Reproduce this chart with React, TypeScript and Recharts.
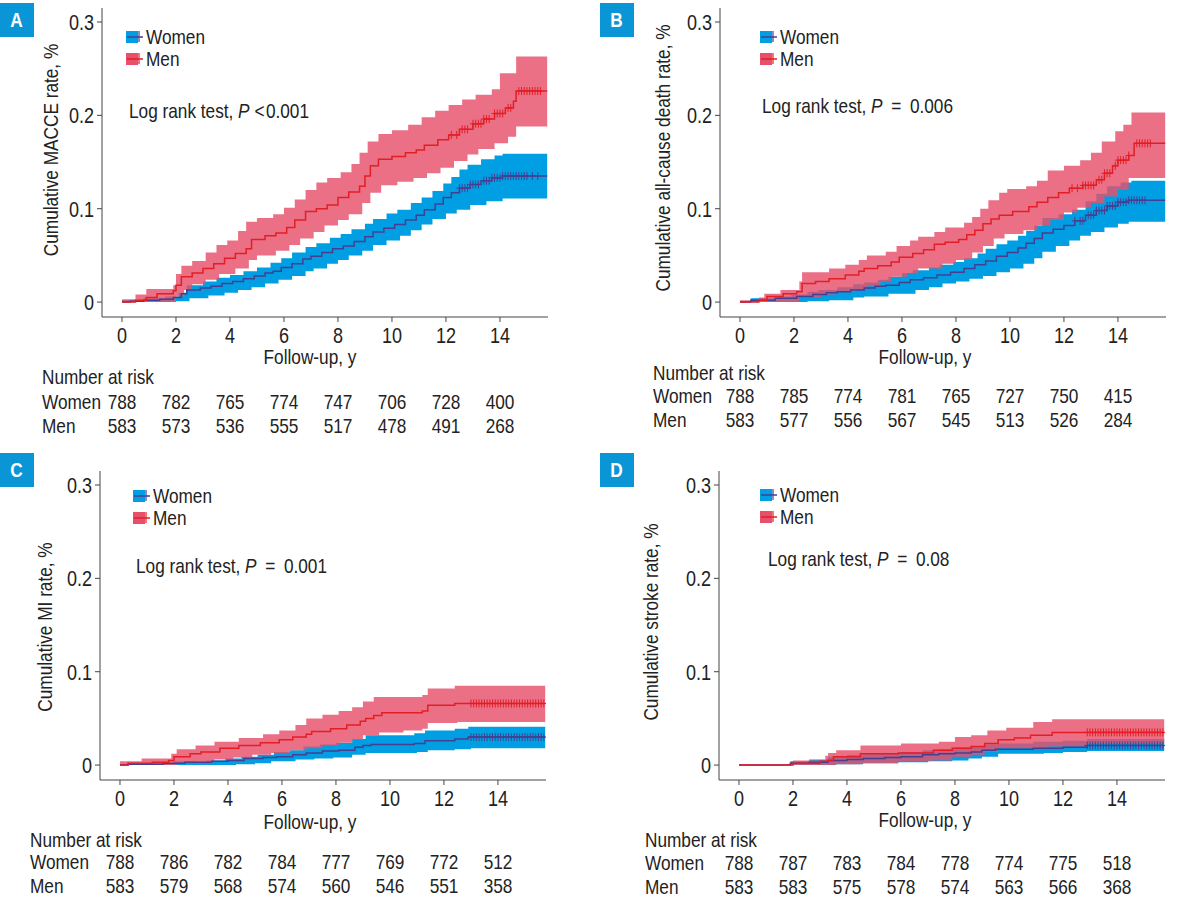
import React from "react";
import { Area, ComposedChart, Line, Scatter, XAxis, YAxis } from "recharts";

type Pt = [number, number];

// Arial-metric face squeezed horizontally to get a condensed look
const FONT = "'Liberation Sans', Arial, sans-serif";
const SQUEEZE = 0.82;
const BLUE_BAND = "#009fe3";
const RED_BAND = "#e6506b";
const BLUE_LINE = "#463f91";
const RED_LINE = "#e31e24";
const AXIS = "#444";
const TEXT = "#222";

const xTicks = [0, 2, 4, 6, 8, 10, 12, 14];
const yTicks = [0, 0.1, 0.2, 0.3];
const followEnd = 15.75;

// ---- A: MACCE ----
const maceWomen: Pt[] = [[0,0],[0.3,0.001],[0.8,0.002],[1.4,0.003],[1.9,0.005],[2.2,0.009],[2.4,0.013],[2.9,0.015],[3.3,0.017],[3.7,0.02],[4.1,0.022],[4.5,0.025],[4.9,0.028],[5.3,0.031],[5.6,0.033],[5.9,0.037],[6.3,0.041],[6.7,0.046],[7.0,0.049],[7.4,0.053],[7.8,0.057],[8.2,0.06],[8.6,0.065],[9.0,0.07],[9.3,0.075],[9.7,0.079],[10.1,0.083],[10.5,0.088],[10.9,0.093],[11.2,0.099],[11.6,0.105],[11.9,0.112],[12.2,0.117],[12.5,0.122],[12.9,0.126],[13.3,0.13],[13.7,0.133],[14.1,0.135]];
const maceWomenLo: Pt[] = [[0,0],[2.0,0.001],[2.5,0.004],[3.2,0.007],[3.8,0.01],[4.3,0.013],[4.8,0.016],[5.3,0.02],[5.8,0.024],[6.3,0.028],[6.8,0.033],[7.1,0.036],[7.6,0.041],[8.0,0.045],[8.4,0.05],[8.9,0.055],[9.3,0.061],[9.8,0.066],[10.3,0.071],[10.7,0.077],[11.1,0.083],[11.5,0.089],[12.0,0.095],[12.4,0.099],[12.9,0.104],[13.5,0.108],[14.1,0.111]];
const maceWomenHi: Pt[] = [[0,0.002],[0.8,0.004],[1.6,0.006],[2.1,0.01],[2.4,0.018],[3.0,0.022],[3.5,0.026],[4.0,0.029],[4.5,0.033],[5.0,0.037],[5.5,0.042],[5.9,0.047],[6.3,0.053],[6.8,0.059],[7.2,0.063],[7.7,0.069],[8.1,0.073],[8.5,0.078],[9.0,0.084],[9.3,0.089],[9.8,0.095],[10.2,0.099],[10.7,0.106],[11.1,0.112],[11.5,0.119],[11.9,0.127],[12.2,0.134],[12.5,0.142],[12.8,0.147],[13.3,0.153],[13.8,0.157],[14.1,0.159]];
const maceMen: Pt[] = [[0,0],[0.5,0.002],[0.9,0.005],[1.3,0.009],[1.9,0.012],[2.0,0.018],[2.2,0.027],[2.6,0.031],[3.0,0.036],[3.4,0.041],[3.8,0.047],[4.2,0.052],[4.6,0.057],[4.8,0.067],[5.3,0.071],[5.7,0.074],[6.1,0.08],[6.4,0.088],[6.8,0.097],[7.2,0.1],[7.6,0.104],[8.0,0.112],[8.4,0.118],[8.8,0.124],[9.0,0.135],[9.2,0.146],[9.5,0.153],[10.0,0.156],[10.5,0.16],[10.9,0.163],[11.2,0.168],[11.7,0.174],[12.1,0.179],[12.5,0.185],[13.0,0.191],[13.4,0.196],[13.8,0.202],[14.2,0.208],[14.5,0.215],[14.6,0.226]];
const maceMenLo: Pt[] = [[0,0],[2.0,0.006],[2.3,0.013],[2.6,0.019],[3.1,0.024],[3.6,0.03],[4.2,0.036],[4.7,0.045],[5.0,0.05],[5.7,0.055],[6.2,0.061],[6.6,0.068],[7.1,0.075],[7.5,0.082],[8.0,0.088],[8.4,0.094],[8.9,0.106],[9.2,0.117],[9.6,0.125],[10.2,0.129],[10.8,0.133],[11.3,0.138],[11.8,0.144],[12.3,0.151],[12.8,0.158],[13.2,0.164],[13.8,0.17],[14.3,0.177],[14.6,0.188]];
const maceMenHi: Pt[] = [[0,0.003],[0.5,0.008],[0.9,0.014],[1.9,0.018],[2.0,0.03],[2.2,0.039],[2.6,0.044],[3.1,0.053],[3.5,0.061],[3.9,0.066],[4.3,0.076],[4.6,0.086],[5.0,0.09],[5.6,0.094],[6.0,0.101],[6.4,0.11],[6.8,0.12],[7.2,0.128],[7.6,0.133],[8.1,0.139],[8.5,0.148],[8.8,0.16],[9.1,0.172],[9.5,0.18],[10.0,0.184],[10.6,0.19],[11.1,0.198],[11.6,0.205],[12.1,0.211],[12.6,0.217],[13.1,0.222],[13.7,0.228],[14.0,0.245],[14.6,0.263]];
const maceWomenCensor = [12.5,12.6,12.7,12.8,12.9,13.0,13.1,13.2,13.4,13.5,13.6,13.7,13.8,13.9,14.0,14.1,14.2,14.3,14.4,14.5,14.6,14.7,14.8,14.9,15.0,15.2,15.4];
const maceMenCensor = [12.2,12.4,12.6,12.7,12.8,13.0,13.1,13.2,13.3,13.4,13.5,13.6,13.8,13.9,14.0,14.1,14.3,14.4,14.7,14.8,14.9,15.0,15.1,15.2,15.3,15.4,15.5];
const maceRiskWomen = [788, 782, 765, 774, 747, 706, 728, 400];
const maceRiskMen = [583, 573, 536, 555, 517, 478, 491, 268];

// ---- B: all-cause death ----
const deathWomen: Pt[] = [[0,0],[0.4,0.002],[1.3,0.004],[2.1,0.006],[2.7,0.008],[3.2,0.01],[3.6,0.011],[4.1,0.013],[4.6,0.015],[5.0,0.017],[5.4,0.018],[5.9,0.021],[6.3,0.024],[6.8,0.026],[7.3,0.029],[7.8,0.032],[8.3,0.036],[8.7,0.04],[9.1,0.044],[9.5,0.049],[9.9,0.053],[10.3,0.058],[10.6,0.063],[10.9,0.068],[11.2,0.074],[11.6,0.078],[12.0,0.082],[12.4,0.087],[12.8,0.093],[13.2,0.098],[13.6,0.103],[14.0,0.107],[14.4,0.109]];
const deathWomenLo: Pt[] = [[0,0],[2.5,0.001],[3.3,0.002],[4.2,0.005],[4.6,0.006],[5.5,0.009],[6.5,0.013],[7.0,0.016],[7.5,0.02],[8.0,0.022],[8.5,0.025],[9.0,0.028],[9.5,0.032],[10.0,0.036],[10.5,0.041],[10.9,0.047],[11.2,0.054],[11.7,0.06],[12.2,0.066],[12.6,0.071],[13.0,0.075],[13.5,0.08],[14.0,0.084],[14.4,0.086]];
const deathWomenHi: Pt[] = [[0,0.001],[0.4,0.004],[1.4,0.006],[1.9,0.008],[2.5,0.011],[2.9,0.013],[3.6,0.016],[4.2,0.019],[4.6,0.021],[5.1,0.024],[5.5,0.027],[6.0,0.031],[6.4,0.034],[7.0,0.037],[7.4,0.04],[7.9,0.043],[8.3,0.047],[8.8,0.052],[9.1,0.057],[9.5,0.062],[9.9,0.066],[10.3,0.071],[10.6,0.076],[10.9,0.082],[11.2,0.09],[11.8,0.094],[12.3,0.099],[12.8,0.108],[13.2,0.116],[13.6,0.124],[14.1,0.128],[14.5,0.13]];
const deathMen: Pt[] = [[0,0],[0.7,0.002],[1.0,0.006],[1.6,0.009],[2.1,0.011],[2.3,0.02],[2.8,0.022],[3.3,0.025],[3.9,0.029],[4.4,0.033],[4.6,0.036],[5.1,0.039],[5.6,0.043],[5.9,0.048],[6.4,0.052],[6.8,0.056],[7.2,0.062],[7.6,0.064],[8.1,0.067],[8.4,0.072],[8.7,0.077],[9.0,0.084],[9.3,0.089],[9.6,0.093],[10.1,0.097],[10.7,0.102],[11.0,0.107],[11.4,0.112],[11.8,0.117],[12.2,0.122],[12.7,0.125],[13.2,0.131],[13.5,0.138],[13.8,0.146],[14.0,0.152],[14.4,0.157],[14.6,0.17]];
const deathMenLo: Pt[] = [[0,0],[2.2,0.005],[3.0,0.008],[3.5,0.011],[4.3,0.014],[4.7,0.017],[5.2,0.022],[5.6,0.027],[6.2,0.031],[6.6,0.036],[7.5,0.041],[8.0,0.045],[8.6,0.053],[9.0,0.06],[9.4,0.068],[9.8,0.073],[10.5,0.077],[11.0,0.082],[11.5,0.088],[12.0,0.096],[12.5,0.101],[13.0,0.106],[13.5,0.113],[14.0,0.12],[14.4,0.133]];
const deathMenHi: Pt[] = [[0,0.002],[0.7,0.005],[0.9,0.009],[1.5,0.013],[2.2,0.022],[2.3,0.032],[3.3,0.036],[3.9,0.04],[4.4,0.045],[4.7,0.05],[5.4,0.054],[5.8,0.06],[6.3,0.066],[6.6,0.07],[7.2,0.075],[7.6,0.08],[8.3,0.085],[8.6,0.091],[8.9,0.1],[9.2,0.109],[9.6,0.117],[9.9,0.121],[10.6,0.124],[11.0,0.13],[11.4,0.141],[12.0,0.146],[12.6,0.152],[13.0,0.16],[13.4,0.172],[13.9,0.183],[14.2,0.19],[14.5,0.203]];
const deathWomenCensor = [12.4,12.6,12.7,12.9,13.0,13.1,13.2,13.3,13.4,13.5,13.6,13.7,13.8,13.9,14.0,14.1,14.2,14.3,14.4,14.5,14.6,14.7,14.8,14.9,15.0];
const deathMenCensor = [12.3,12.5,12.7,12.8,12.9,13.0,13.1,13.3,13.4,13.5,13.6,13.7,13.9,14.0,14.1,14.2,14.3,14.4,14.7,14.8,14.9,15.0,15.1,15.2];
const deathRiskWomen = [788, 785, 774, 781, 765, 727, 750, 415];
const deathRiskMen = [583, 577, 556, 567, 545, 513, 526, 284];

// ---- C: MI ----
const miWomen: Pt[] = [[0,0],[0.3,0.001],[1.6,0.002],[2.4,0.003],[3.4,0.004],[4.0,0.005],[4.6,0.007],[5.3,0.008],[5.8,0.009],[6.4,0.011],[6.9,0.013],[7.5,0.015],[8.1,0.016],[8.7,0.019],[9.0,0.021],[9.3,0.022],[10.9,0.023],[11.3,0.026],[12.4,0.028],[12.9,0.03]];
const miWomenLo: Pt[] = [[0,0],[4.3,0.001],[5.0,0.002],[5.6,0.004],[6.5,0.006],[7.2,0.007],[7.9,0.008],[8.6,0.011],[9.1,0.013],[11.0,0.014],[11.4,0.016],[12.4,0.017],[13.0,0.018]];
const miWomenHi: Pt[] = [[0,0.001],[1.0,0.002],[2.0,0.004],[3.2,0.005],[3.9,0.007],[4.5,0.009],[5.1,0.011],[5.7,0.014],[6.3,0.016],[6.8,0.02],[7.4,0.022],[8.0,0.024],[8.6,0.028],[9.1,0.032],[10.9,0.034],[11.3,0.037],[12.4,0.039],[12.9,0.041]];
const miMen: Pt[] = [[0,0],[0.3,0.002],[1.2,0.003],[1.8,0.005],[2.0,0.009],[2.6,0.012],[3.0,0.014],[3.7,0.018],[4.4,0.021],[5.2,0.024],[5.9,0.027],[6.4,0.03],[6.9,0.033],[7.1,0.036],[7.8,0.039],[8.4,0.043],[8.9,0.047],[9.1,0.05],[9.4,0.053],[9.7,0.056],[11.2,0.058],[11.4,0.064],[12.4,0.066]];
const miMenLo: Pt[] = [[0,0],[2.1,0.002],[2.8,0.004],[3.5,0.006],[4.2,0.008],[4.9,0.011],[5.6,0.013],[6.3,0.016],[6.9,0.018],[7.5,0.021],[8.1,0.024],[8.6,0.027],[9.0,0.032],[9.6,0.035],[10.5,0.037],[11.2,0.039],[11.4,0.045],[12.5,0.046]];
const miMenHi: Pt[] = [[0,0.004],[0.8,0.007],[1.9,0.012],[2.1,0.017],[2.8,0.021],[3.5,0.025],[4.4,0.029],[5.3,0.033],[5.9,0.037],[6.5,0.043],[6.9,0.05],[7.5,0.054],[8.1,0.058],[8.6,0.062],[9.0,0.068],[9.4,0.073],[11.2,0.075],[11.4,0.082],[12.4,0.085]];
const miWomenCensor = [13.0,13.1,13.2,13.3,13.4,13.5,13.6,13.7,13.8,13.9,14.0,14.1,14.2,14.3,14.4,14.5,14.6,14.7,14.8,14.9,15.0,15.1,15.2,15.3,15.4,15.5,15.6,15.7];
const miMenCensor = [13.0,13.1,13.2,13.3,13.4,13.5,13.6,13.7,13.8,13.9,14.0,14.1,14.2,14.3,14.4,14.5,14.6,14.7,14.8,14.9,15.0,15.1,15.2,15.3,15.4,15.5,15.6,15.7];
const miRiskWomen = [788, 786, 782, 784, 777, 769, 772, 512];
const miRiskMen = [583, 579, 568, 574, 560, 546, 551, 358];

// ---- D: stroke ----
const strokeWomen: Pt[] = [[0,0],[1.9,0.002],[2.6,0.003],[3.3,0.005],[4.0,0.006],[4.6,0.007],[5.4,0.008],[6.0,0.009],[6.8,0.011],[7.4,0.012],[8.0,0.013],[8.6,0.014],[9.0,0.016],[9.5,0.017],[10.9,0.018],[12.0,0.019],[12.9,0.021]];
const strokeWomenLo: Pt[] = [[0,0],[3.6,0.001],[4.6,0.002],[5.9,0.003],[7.0,0.004],[7.9,0.005],[8.5,0.007],[9.0,0.009],[9.6,0.012],[11.3,0.013],[12.0,0.014],[12.9,0.015]];
const strokeWomenHi: Pt[] = [[0,0],[1.9,0.004],[2.6,0.006],[3.3,0.009],[4.0,0.011],[4.6,0.012],[5.4,0.013],[6.0,0.014],[6.8,0.016],[7.4,0.017],[8.0,0.019],[8.6,0.02],[9.1,0.022],[9.6,0.023],[10.9,0.025],[12.0,0.026],[12.9,0.028]];
const strokeMen: Pt[] = [[0,0],[2.0,0.002],[3.0,0.004],[3.3,0.005],[3.5,0.009],[4.5,0.012],[5.9,0.013],[7.2,0.016],[7.9,0.018],[8.6,0.02],[9.1,0.023],[9.6,0.027],[10.2,0.029],[10.8,0.032],[11.6,0.035]];
const strokeMenLo: Pt[] = [[0,0],[3.6,0.001],[4.5,0.002],[5.9,0.004],[7.1,0.005],[7.9,0.009],[8.6,0.011],[9.1,0.014],[9.6,0.018],[11.4,0.02],[12.9,0.023]];
const strokeMenHi: Pt[] = [[0,0],[2.0,0.005],[3.2,0.01],[3.3,0.013],[3.6,0.016],[4.5,0.021],[6.0,0.023],[7.4,0.025],[8.0,0.03],[8.6,0.032],[9.2,0.037],[9.9,0.04],[10.9,0.046],[11.6,0.049]];
const strokeWomenCensor = [12.9,13.0,13.1,13.2,13.3,13.4,13.5,13.6,13.7,13.8,13.9,14.0,14.1,14.2,14.3,14.4,14.5,14.6,14.7,14.8,14.9,15.0,15.1,15.2,15.3,15.4,15.5,15.6,15.7];
const strokeMenCensor = [12.9,13.0,13.1,13.2,13.3,13.4,13.5,13.6,13.7,13.8,13.9,14.0,14.1,14.2,14.3,14.4,14.5,14.6,14.7,14.8,14.9,15.0,15.1,15.2,15.3,15.4,15.5,15.6,15.7];
const strokeRiskWomen = [788, 787, 783, 784, 778, 774, 775, 518];
const strokeRiskMen = [583, 583, 575, 578, 574, 563, 566, 368];

// Kaplan-Meier curves are right-continuous step functions
function stepAt(curve: Pt[], t: number) {
  let v = curve[0][1];
  for (const [x, y] of curve) {
    if (x <= t) v = y;
    else break;
  }
  return v;
}

interface Strata {
  est: Pt[];
  lo: Pt[];
  hi: Pt[];
  censor: number[];
}

function buildRows(w: Strata, m: Strata) {
  const all = [w.est, w.lo, w.hi, m.est, m.lo, m.hi].flatMap((c) => c.map((p) => p[0]));
  const times = Array.from(new Set([...all, followEnd])).sort((a, b) => a - b);
  return times.map((t) => ({
    t,
    w: stepAt(w.est, t),
    wBand: [stepAt(w.lo, t), stepAt(w.hi, t)],
    m: stepAt(m.est, t),
    mBand: [stepAt(m.lo, t), stepAt(m.hi, t)],
  }));
}

const X_DOMAIN: [number, number] = [-0.74, 15.78];
const Y_DOMAIN: [number, number] = [-0.016, 0.315];
const PLOT_W = 446;
const PLOT_H = 309;
const AXIS_W = 60;
const AXIS_H = 40;
const PAD_TOP = 8;
const PAD_RIGHT = 10;

const xPix = (t: number) => ((t - X_DOMAIN[0]) / (X_DOMAIN[1] - X_DOMAIN[0])) * PLOT_W;

const plusShape = (color: string) => (props: any) => {
  const { cx, cy } = props;
  return (
    <g stroke={color} strokeWidth={1}>
      <line x1={cx - 3} x2={cx + 3} y1={cy} y2={cy} />
      <line x1={cx} x2={cx} y1={cy - 4} y2={cy + 4} />
    </g>
  );
};

// eslint-disable-next-line @typescript-eslint/no-explicit-any
function XTick({ x, y, payload }: any) {
  return (
    <text
      transform={`translate(${x},${y}) scale(${SQUEEZE},1)`}
      textAnchor="middle"
      dy="0.71em"
      fontSize={22}
      fontFamily={FONT}
      fill={TEXT}
    >
      {payload.value}
    </text>
  );
}

// eslint-disable-next-line @typescript-eslint/no-explicit-any
function YTick({ x, y, payload }: any) {
  const v = payload.value as number;
  return (
    <text
      transform={`translate(${x},${y}) scale(${SQUEEZE},1)`}
      textAnchor="end"
      dy="0.355em"
      fontSize={22}
      fontFamily={FONT}
      fill={TEXT}
    >
      {v === 0 ? "0" : v.toFixed(1)}
    </text>
  );
}

interface PanelCfg {
  letter: string;
  plotLeft: number;
  plotTop: number;
  box: { x: number; y: number };
  yLabel: { text: string; x: number; y: number };
  legend: { x: number; y1: number; y2: number };
  logrank: { x: number; y: number; tail: string };
  follow: { x: number; y: number };
  table: { x: number; y0: number; y1: number; y2: number };
  women: Strata;
  men: Strata;
  riskWomen: number[];
  riskMen: number[];
}

const panels: PanelCfg[] = [
  {
    letter: "A",
    plotLeft: 102,
    plotTop: 8,
    box: { x: 0, y: 3 },
    yLabel: { text: "Cumulative MACCE rate, %", x: 51, y: 150 },
    legend: { x: 126, y1: 37, y2: 59 },
    logrank: { x: 129, y: 111, tail: " <\u200a0.001" },
    follow: { x: 310, y: 357 },
    table: { x: 42, y0: 377, y1: 402, y2: 426 },
    women: { est: maceWomen, lo: maceWomenLo, hi: maceWomenHi, censor: maceWomenCensor },
    men: { est: maceMen, lo: maceMenLo, hi: maceMenHi, censor: maceMenCensor },
    riskWomen: maceRiskWomen,
    riskMen: maceRiskMen,
  },
  {
    letter: "B",
    plotLeft: 720,
    plotTop: 8,
    box: { x: 600, y: 3 },
    yLabel: { text: "Cumulative all-cause death rate, %", x: 663, y: 158 },
    legend: { x: 760, y1: 37, y2: 59 },
    logrank: { x: 762, y: 106, tail: "\u2002=\u20020.006" },
    follow: { x: 925, y: 357 },
    table: { x: 653, y0: 373, y1: 396, y2: 420 },
    women: { est: deathWomen, lo: deathWomenLo, hi: deathWomenHi, censor: deathWomenCensor },
    men: { est: deathMen, lo: deathMenLo, hi: deathMenHi, censor: deathMenCensor },
    riskWomen: deathRiskWomen,
    riskMen: deathRiskMen,
  },
  {
    letter: "C",
    plotLeft: 100,
    plotTop: 471,
    box: { x: 0, y: 453 },
    yLabel: { text: "Cumulative MI rate, %", x: 45, y: 627 },
    legend: { x: 133, y1: 496, y2: 518 },
    logrank: { x: 136, y: 566, tail: "\u2002=\u20020.001" },
    follow: { x: 310, y: 822 },
    table: { x: 30, y0: 840, y1: 862, y2: 886 },
    women: { est: miWomen, lo: miWomenLo, hi: miWomenHi, censor: miWomenCensor },
    men: { est: miMen, lo: miMenLo, hi: miMenHi, censor: miMenCensor },
    riskWomen: miRiskWomen,
    riskMen: miRiskMen,
  },
  {
    letter: "D",
    plotLeft: 719,
    plotTop: 471,
    box: { x: 600, y: 453 },
    yLabel: { text: "Cumulative stroke rate, %", x: 651, y: 622 },
    legend: { x: 760, y1: 495, y2: 517 },
    logrank: { x: 768, y: 559, tail: "\u2002=\u20020.08" },
    follow: { x: 925, y: 820 },
    table: { x: 645, y0: 840, y1: 863, y2: 887 },
    women: { est: strokeWomen, lo: strokeWomenLo, hi: strokeWomenHi, censor: strokeWomenCensor },
    men: { est: strokeMen, lo: strokeMenLo, hi: strokeMenHi, censor: strokeMenCensor },
    riskWomen: strokeRiskWomen,
    riskMen: strokeRiskMen,
  },
];

const base = (x: number, y: number): React.CSSProperties => ({
  position: "absolute",
  left: x,
  top: y,
  fontFamily: FONT,
  fontSize: 21,
  lineHeight: "20px",
  color: TEXT,
  whiteSpace: "nowrap",
});

// left-aligned, vertically centred on y
const leftText = (x: number, y: number): React.CSSProperties => ({
  ...base(x, y),
  transformOrigin: "0 50%",
  transform: `translateY(-50%) scaleX(${SQUEEZE})`,
});

// centred on (x, y)
const midText = (x: number, y: number): React.CSSProperties => ({
  ...base(x, y),
  transform: `translate(-50%, -50%) scaleX(${SQUEEZE})`,
});

function LegendKey({ x, y, band, line }: { x: number; y: number; band: string; line: string }) {
  return (
    <svg style={{ position: "absolute", left: x, top: y - 8 }} width={20} height={16}>
      <rect x={0} y={2} width={12} height={12} fill={band} />
      <line x1={1} x2={17} y1={8} y2={8} stroke={line} strokeWidth={1.5} />
      <line x1={13} x2={13} y1={2} y2={13} stroke={line} strokeWidth={1.2} />
    </svg>
  );
}

function Panel({ cfg }: { cfg: PanelCfg }) {
  const rows = buildRows(cfg.women, cfg.men);
  const wCens = cfg.women.censor.map((t) => ({ t, v: stepAt(cfg.women.est, t) }));
  const mCens = cfg.men.censor.map((t) => ({ t, v: stepAt(cfg.men.est, t) }));

  return (
    <>
      <div style={{ position: "absolute", left: cfg.plotLeft - AXIS_W, top: cfg.plotTop - PAD_TOP }}>
        <ComposedChart
          width={AXIS_W + PLOT_W + PAD_RIGHT}
          height={PAD_TOP + PLOT_H + AXIS_H}
          data={rows}
          margin={{ top: PAD_TOP, right: PAD_RIGHT, bottom: 0, left: 0 }}
        >
          <XAxis
            dataKey="t"
            type="number"
            domain={X_DOMAIN}
            ticks={xTicks}
            interval={0}
            allowDataOverflow
            height={AXIS_H}
            tickSize={5}
            tickMargin={5}
            stroke={AXIS}
            tick={<XTick />}
          />
          <YAxis
            type="number"
            domain={Y_DOMAIN}
            ticks={yTicks}
            interval={0}
            allowDataOverflow
            width={AXIS_W}
            tickSize={5}
            tickMargin={3}
            stroke={AXIS}
            tick={<YTick />}
          />
          <Area type="stepAfter" dataKey="wBand" fill={BLUE_BAND} fillOpacity={1} stroke="none" isAnimationActive={false} />
          <Area type="stepAfter" dataKey="mBand" fill={RED_BAND} fillOpacity={0.82} stroke="none" isAnimationActive={false} />
          <Line type="stepAfter" dataKey="w" stroke={BLUE_LINE} strokeWidth={1.5} dot={false} isAnimationActive={false} />
          <Line type="stepAfter" dataKey="m" stroke={RED_LINE} strokeWidth={1.5} dot={false} isAnimationActive={false} />
          <Scatter data={wCens} dataKey="v" shape={plusShape(BLUE_LINE)} isAnimationActive={false} />
          <Scatter data={mCens} dataKey="v" shape={plusShape(RED_LINE)} isAnimationActive={false} />
        </ComposedChart>
      </div>

      <div
        style={{
          position: "absolute",
          left: cfg.box.x,
          top: cfg.box.y,
          width: 34,
          height: 34,
          background: "#0a96d6",
          color: "#fff",
          fontFamily: FONT,
          fontWeight: "bold",
          fontSize: 21,
          lineHeight: "34px",
          textAlign: "center",
        }}
      >
        <span style={{ display: "inline-block", transform: `scaleX(${SQUEEZE})` }}>{cfg.letter}</span>
      </div>

      <div
        style={{
          ...base(cfg.yLabel.x, cfg.yLabel.y),
          transform: `translate(-50%, -50%) rotate(-90deg) scaleX(${SQUEEZE})`,
        }}
      >
        {cfg.yLabel.text}
      </div>

      <LegendKey x={cfg.legend.x} y={cfg.legend.y1} band={BLUE_BAND} line={BLUE_LINE} />
      <LegendKey x={cfg.legend.x} y={cfg.legend.y2} band={RED_BAND} line={RED_LINE} />
      <div style={leftText(cfg.legend.x + 20, cfg.legend.y1)}>Women</div>
      <div style={leftText(cfg.legend.x + 20, cfg.legend.y2)}>Men</div>

      <div style={leftText(cfg.logrank.x, cfg.logrank.y)}>
        Log rank test, <i>P</i>
        {cfg.logrank.tail}
      </div>

      <div style={midText(cfg.follow.x, cfg.follow.y)}>Follow-up, y</div>

      <div style={leftText(cfg.table.x, cfg.table.y0)}>Number at risk</div>
      <div style={leftText(cfg.table.x, cfg.table.y1)}>Women</div>
      <div style={leftText(cfg.table.x, cfg.table.y2)}>Men</div>
      {xTicks.map((yr, i) => (
        <React.Fragment key={yr}>
          <div style={midText(cfg.plotLeft + xPix(yr), cfg.table.y1)}>{cfg.riskWomen[i]}</div>
          <div style={midText(cfg.plotLeft + xPix(yr), cfg.table.y2)}>{cfg.riskMen[i]}</div>
        </React.Fragment>
      ))}
    </>
  );
}

export default function App() {
  return (
    <div
      style={{
        position: "absolute",
        left: 0,
        top: 0,
        width: 1198,
        height: 902,
        background: "#fff",
        overflow: "hidden",
      }}
    >
      {panels.map((p) => (
        <Panel key={p.letter} cfg={p} />
      ))}
    </div>
  );
}
